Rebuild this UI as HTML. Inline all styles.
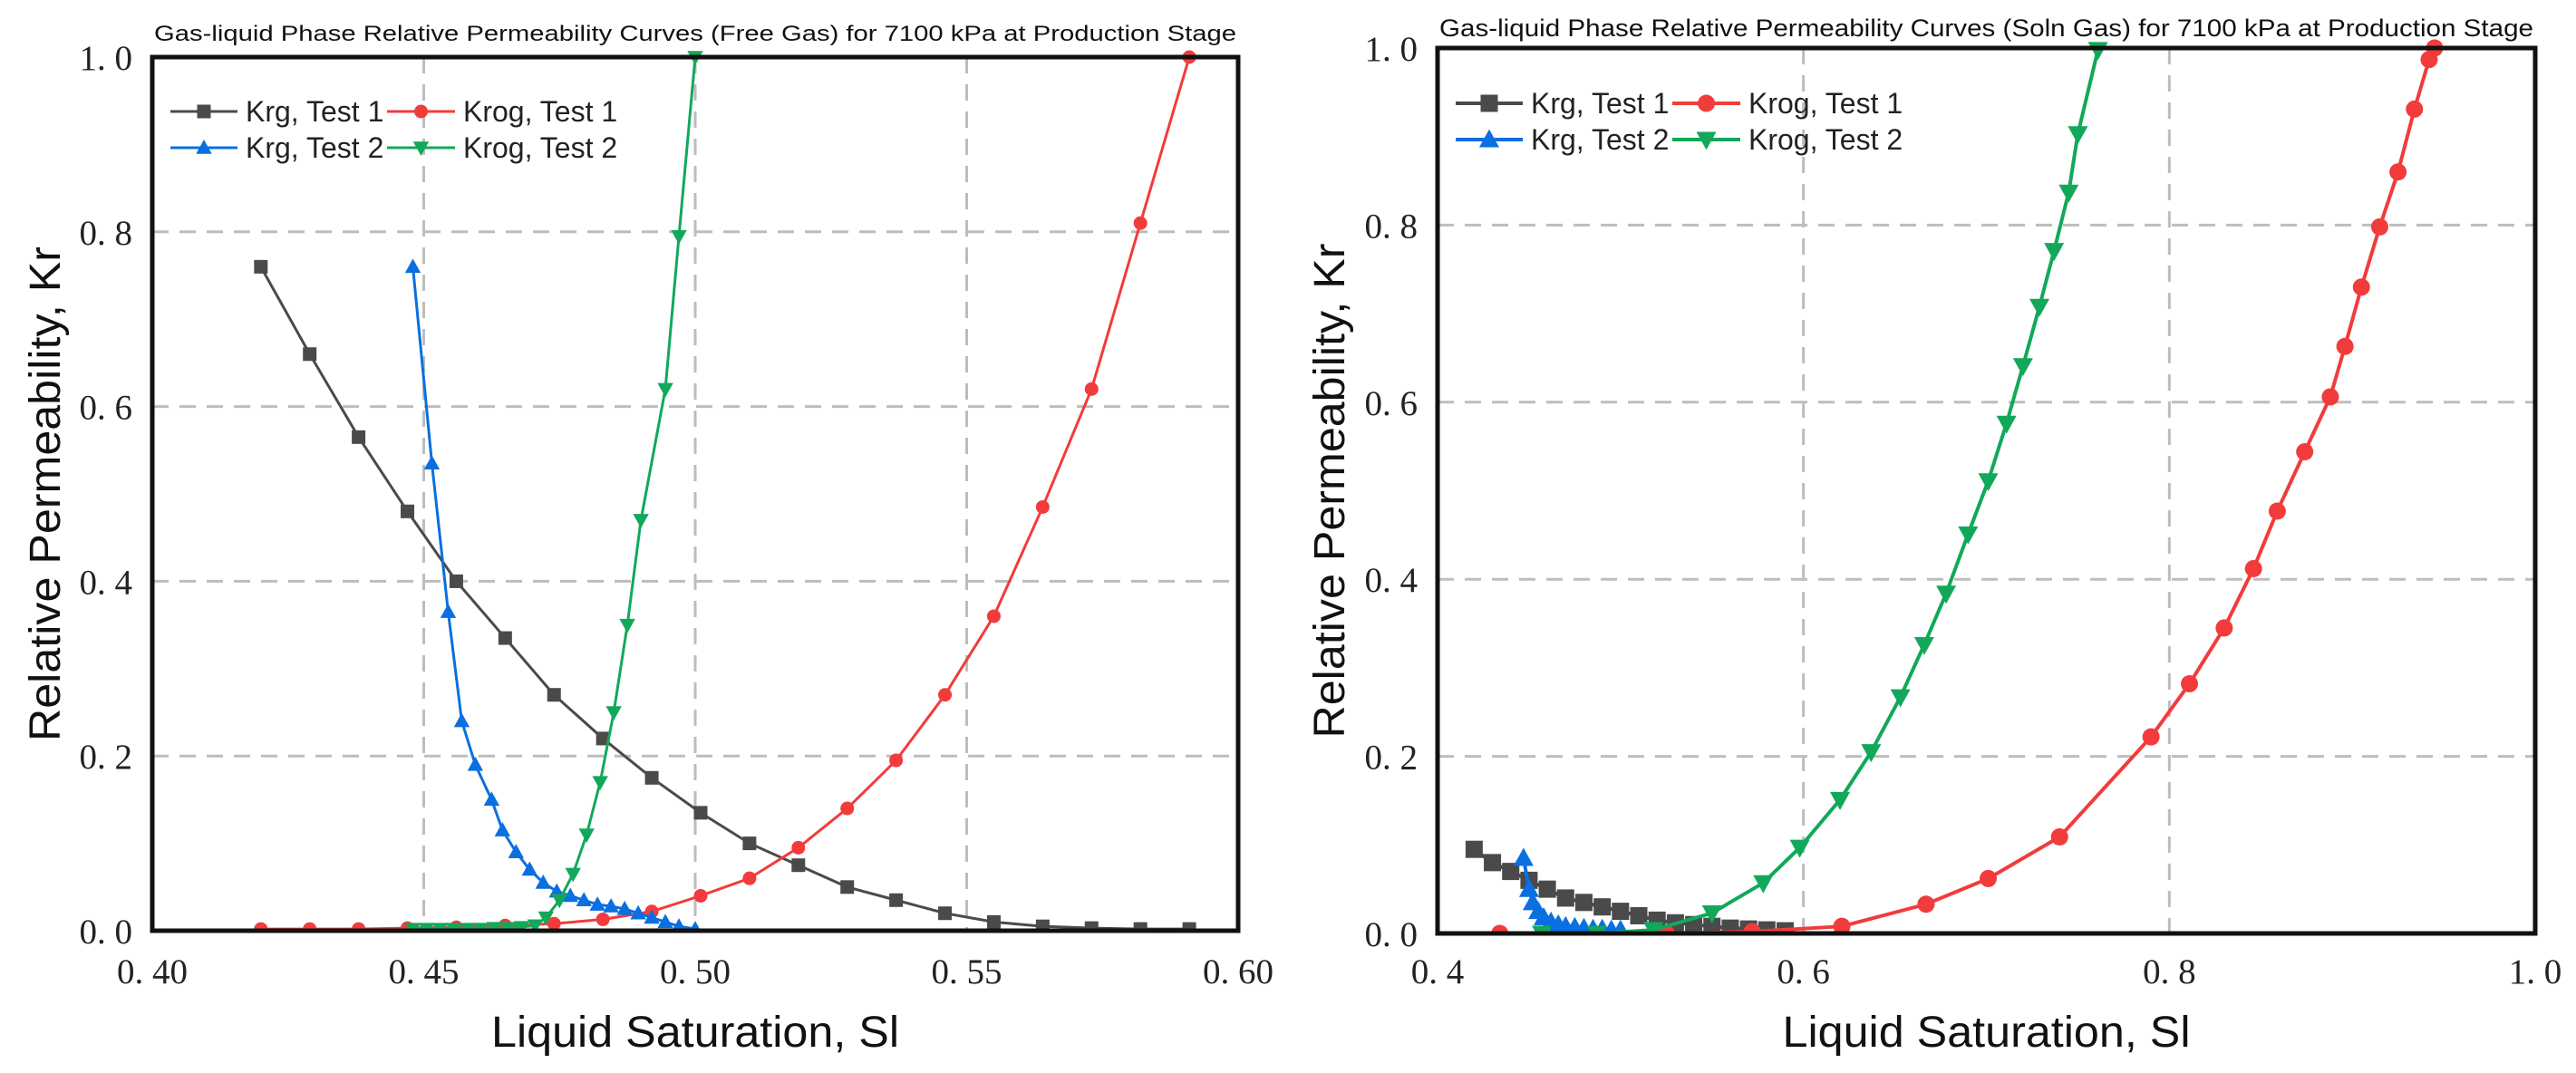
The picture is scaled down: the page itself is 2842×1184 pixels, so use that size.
<!DOCTYPE html>
<html><head><meta charset="utf-8"><style>
html,body{margin:0;padding:0;background:#fff}
svg{display:block}
</style></head><body>
<svg id="fig" width="2842" height="1184" viewBox="0 0 2842 1184" xmlns="http://www.w3.org/2000/svg"></svg>
<script>
// ---- Left chart data (Free Gas) ----
const leftXTicks = [0.40, 0.45, 0.50, 0.55, 0.60];
const leftXTickLabels = ["0. 40", "0. 45", "0. 50", "0. 55", "0. 60"];
const yTicks = [0, 0.2, 0.4, 0.6, 0.8, 1.0];
const yTickLabels = ["0. 0", "0. 2", "0. 4", "0. 6", "0. 8", "1. 0"];
const leftKrg1X = [0.42,0.429,0.438,0.447,0.456,0.465,0.474,0.483,0.492,0.501,0.510,0.519,0.528,0.537,0.546,0.555,0.564,0.573,0.582,0.591];
const leftKrg1Y = [0.76,0.66,0.565,0.48,0.40,0.335,0.27,0.22,0.175,0.135,0.10,0.075,0.05,0.035,0.02,0.01,0.005,0.003,0.002,0.002];
const leftKrog1X = [0.42,0.429,0.438,0.447,0.456,0.465,0.474,0.483,0.492,0.501,0.510,0.519,0.528,0.537,0.546,0.555,0.564,0.573,0.582,0.591];
const leftKrog1Y = [0.002,0.002,0.002,0.003,0.004,0.006,0.008,0.013,0.022,0.04,0.06,0.095,0.14,0.195,0.27,0.36,0.485,0.62,0.81,1.0];
const leftKrg2X = [0.448,0.4515,0.4545,0.457,0.4595,0.4625,0.4645,0.467,0.4695,0.472,0.4745,0.477,0.4795,0.482,0.4845,0.487,0.4895,0.492,0.4945,0.497,0.500];
const leftKrg2Y = [0.76,0.535,0.365,0.24,0.19,0.15,0.115,0.09,0.07,0.055,0.045,0.04,0.035,0.03,0.028,0.025,0.02,0.015,0.01,0.005,0.002];
const leftKrog2X = [0.448,0.4505,0.453,0.4555,0.458,0.4605,0.463,0.4655,0.468,0.4705,0.4725,0.475,0.4775,0.480,0.4825,0.485,0.4875,0.490,0.4945,0.497,0.500];
const leftKrog2Y = [0.002,0.002,0.002,0.002,0.002,0.002,0.003,0.003,0.004,0.006,0.015,0.035,0.065,0.11,0.17,0.25,0.35,0.47,0.62,0.795,1.0];

// ---- Right chart data (Soln Gas) ----
const rightXTicks = [0.4, 0.6, 0.8, 1.0];
const rightXTickLabels = ["0. 4", "0. 6", "0. 8", "1. 0"];
const rightKrg1X = [0.42,0.43,0.44,0.45,0.46,0.47,0.48,0.49,0.50,0.51,0.52,0.53,0.54,0.55,0.56,0.57,0.58,0.59];
const rightKrg1Y = [0.095,0.08,0.07,0.06,0.05,0.04,0.035,0.03,0.025,0.02,0.015,0.012,0.01,0.008,0.006,0.005,0.004,0.003];
const rightKrog1X = [0.434,0.525,0.572,0.621,0.667,0.701,0.740,0.790,0.811,0.830,0.846,0.859,0.874,0.888,0.896,0.905,0.915,0.925,0.934,0.942,0.945];
const rightKrog1Y = [0,0,0.002,0.008,0.033,0.062,0.109,0.222,0.282,0.345,0.412,0.477,0.544,0.606,0.663,0.730,0.798,0.860,0.931,0.987,1.0];
const rightKrg2X = [0.447,0.45,0.452,0.455,0.458,0.462,0.466,0.47,0.475,0.48,0.485,0.49,0.495,0.50];
const rightKrg2Y = [0.085,0.05,0.035,0.025,0.018,0.013,0.01,0.008,0.007,0.006,0.005,0.005,0.004,0.004];
const rightKrog2X = [0.457,0.487,0.518,0.550,0.578,0.598,0.620,0.637,0.653,0.666,0.678,0.690,0.701,0.711,0.720,0.729,0.737,0.745,0.750,0.761];
const rightKrog2Y = [0,0,0.004,0.023,0.057,0.097,0.151,0.205,0.267,0.326,0.384,0.451,0.511,0.576,0.641,0.708,0.771,0.837,0.903,0.998];

const NS = "http://www.w3.org/2000/svg";
const svg = document.getElementById('fig');
function mk(tag, attrs, parent) {
  const e = document.createElementNS(NS, tag);
  for (const k in attrs) e.setAttribute(k, attrs[k]);
  (parent || svg).appendChild(e);
  return e;
}
const COL = {krg1:"#4a4a4a", krog1:"#f23b3b", krg2:"#0a6fe0", krog2:"#12a85a"};

function marker(g, type, cx, cy, s, col) {
  let e;
  if (type === 'sq') e = mk('rect', {x:cx-s/2, y:cy-s/2, width:s, height:s, fill:col}, g);
  else if (type === 'ci') e = mk('circle', {cx:cx, cy:cy, r:s/2, fill:col}, g);
  else if (type === 'up') e = mk('polygon', {points:`${cx},${cy-s*0.6} ${cx-s*0.58},${cy+s*0.45} ${cx+s*0.58},${cy+s*0.45}`, fill:col}, g);
  else e = mk('polygon', {points:`${cx},${cy+s*0.6} ${cx-s*0.58},${cy-s*0.45} ${cx+s*0.58},${cy-s*0.45}`, fill:col}, g);
  
  
  return e;
}

function chart(o) {
  const g = mk('g', {});
  
  
  const xs = v => o.L + (v - o.xmin) / (o.xmax - o.xmin) * (o.R - o.L);
  const ys = v => o.B - v * (o.B - o.T);
  o.xGrid.forEach(v => {
    const l = mk('line', {x1:xs(v), x2:xs(v), y1:o.T, y2:o.B, stroke:"#bdbdbd", "stroke-width":3, "stroke-dasharray":"18,12"}, g);
    
    
  });
  [0.2,0.4,0.6,0.8].forEach(v => {
    const l = mk('line', {x1:o.L, x2:o.R, y1:ys(v), y2:ys(v), stroke:"#bdbdbd", "stroke-width":3, "stroke-dasharray":"18,12"}, g);
    
    
  });
  const clip = 'clip-' + o.name;
  const cp = mk('clipPath', {id: clip}, g);
  mk('rect', {x:o.L-12, y:o.T-12, width:o.R-o.L+24, height:o.B-o.T+14}, cp);
  o.series.forEach(s => {
    const sg = mk('g', {'clip-path':`url(#${clip})`}, g);
    
    
    const pts = s.x.map((v,i) => `${xs(v)},${ys(s.y[i])}`).join(' ');
    mk('polyline', {points:pts, fill:"none", stroke:s.col, "stroke-width":o.lw}, sg);
    s.x.forEach((v,i) => marker(sg, s.m, xs(v), ys(s.y[i]), o.ms, s.col));
  });
  const fr = mk('rect', {x:o.L, y:o.T, width:o.R-o.L, height:o.B-o.T, fill:"none", stroke:"#111", "stroke-width":5}, g);
  
  
  o.xTicks.forEach((v,i) => {
    const t = mk('text', {x:xs(v), y:1085, "text-anchor":"middle", "font-family":"Liberation Serif, serif", "font-size":39, fill:"#222"}, g);
    t.textContent = o.xLabels[i];
    
    
  });
  yTicks.forEach((v,i) => {
    const t = mk('text', {x:o.L-22, y:ys(v)+14, "text-anchor":"end", "font-family":"Liberation Serif, serif", "font-size":39, fill:"#222"}, g);
    t.textContent = yTickLabels[i];
    
    
  });
  const tt = mk('text', {x:(o.L+o.R)/2, y:o.titleY, "text-anchor":"middle", "font-family":"Liberation Sans, sans-serif", "font-size":o.titleFs, fill:"#111", textLength:o.R-o.L-4, lengthAdjust:"spacingAndGlyphs"}, g);
  tt.textContent = o.title;
  
  
  const xt = mk('text', {x:(o.L+o.R)/2, y:1155, "text-anchor":"middle", "font-family":"Liberation Sans, sans-serif", "font-size":48, fill:"#111", textLength:450, lengthAdjust:"spacingAndGlyphs"}, g);
  xt.textContent = "Liquid Saturation, Sl";
  
  
  const yt = mk('text', {x:0, y:0, "text-anchor":"middle", "font-family":"Liberation Sans, sans-serif", "font-size":48, fill:"#111", textLength:546, lengthAdjust:"spacingAndGlyphs", transform:`translate(${o.yTitleX},${(o.T+o.B)/2}) rotate(-90)`}, g);
  yt.textContent = "Relative Permeability, Kr";
  
  
  const lg = mk('g', {}, g);
  
  
  const cols = [[o.L+20, o.L+94, o.L+103],[o.L+259, o.L+334, o.L+343]];
  o.series.forEach((s, i) => {
    const c = cols[i % 2], y = o.legY[Math.floor(i/2)];
    const e = mk('g', {}, lg);
    
    
    mk('line', {x1:c[0], x2:c[1], y1:y, y2:y, stroke:s.col, "stroke-width":o.lw}, e);
    marker(e, s.m, (c[0]+c[1])/2, y, o.ms, s.col);
    const t = mk('text', {x:c[2], y:y+11, "font-family":"Liberation Sans, sans-serif", "font-size":32, fill:"#222"}, e);
    t.textContent = s.label;
  });
}

chart({name:"free-gas-chart", L:168, R:1366, T:63, B:1027, xmin:0.40, xmax:0.60,
  xTicks:leftXTicks, xLabels:leftXTickLabels, xGrid:[0.45,0.50,0.55],
  title:"Gas-liquid Phase Relative Permeability Curves (Free Gas) for 7100 kPa at Production Stage",
  titleY:45, titleFs:24, yTitleX:66, lw:3, ms:15, legY:[123,163],
  series:[
    {name:"krg-test1-series", label:"Krg, Test 1", x:leftKrg1X, y:leftKrg1Y, col:COL.krg1, m:'sq'},
    {name:"krog-test1-series", label:"Krog, Test 1", x:leftKrog1X, y:leftKrog1Y, col:COL.krog1, m:'ci'},
    {name:"krg-test2-series", label:"Krg, Test 2", x:leftKrg2X, y:leftKrg2Y, col:COL.krg2, m:'up'},
    {name:"krog-test2-series", label:"Krog, Test 2", x:leftKrog2X, y:leftKrog2Y, col:COL.krog2, m:'dn'}
  ]});

chart({name:"soln-gas-chart", L:1586, R:2797, T:53, B:1030, xmin:0.4, xmax:1.0,
  xTicks:rightXTicks, xLabels:rightXTickLabels, xGrid:[0.6,0.8],
  title:"Gas-liquid Phase Relative Permeability Curves (Soln Gas) for 7100 kPa at Production Stage",
  titleY:40, titleFs:27, yTitleX:1421+62, lw:4, ms:19, legY:[114,154],
  series:[
    {name:"krg-test1-series", label:"Krg, Test 1", x:rightKrg1X, y:rightKrg1Y, col:COL.krg1, m:'sq'},
    {name:"krog-test1-series", label:"Krog, Test 1", x:rightKrog1X, y:rightKrog1Y, col:COL.krog1, m:'ci'},
    {name:"krg-test2-series", label:"Krg, Test 2", x:rightKrg2X, y:rightKrg2Y, col:COL.krg2, m:'up'},
    {name:"krog-test2-series", label:"Krog, Test 2", x:rightKrog2X, y:rightKrog2Y, col:COL.krog2, m:'dn'}
  ]});
</script>
</body></html>
